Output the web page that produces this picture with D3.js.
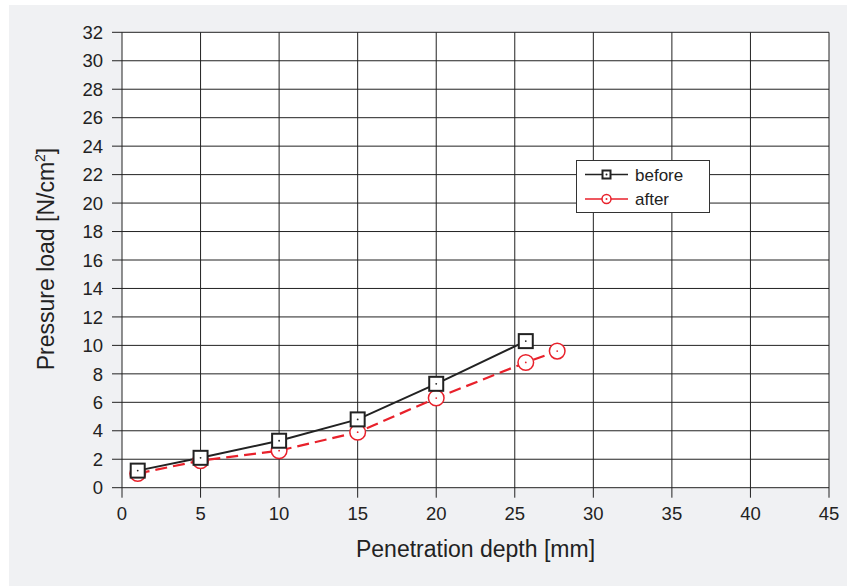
<!DOCTYPE html>
<html><head><meta charset="utf-8">
<script src="https://cdn.jsdelivr.net/npm/d3@7"></script>
<style>body{margin:0;background:#fff}svg{display:block;font-family:"Liberation Sans",Arial,sans-serif}</style>
</head><body>
<svg id="c" width="854" height="586"></svg>
<script>
const beforeX = [1, 5, 10, 15, 20, 25.7];
const beforeY = [1.2, 2.1, 3.3, 4.8, 7.3, 10.3];
const afterX = [1, 5, 10, 15, 20, 25.7, 27.7];
const afterY = [1.0, 1.9, 2.6, 3.9, 6.3, 8.8, 9.6];
const xTicks = [0, 5, 10, 15, 20, 25, 30, 35, 40, 45];
const yTicks = [0, 2, 4, 6, 8, 10, 12, 14, 16, 18, 20, 22, 24, 26, 28, 30, 32];
const seriesNames = ["before", "after"];
const xTitle = "Penetration depth [mm]";

const svg = d3.select("#c");
svg.append("rect").attr("x", 9).attr("y", 5).attr("width", 838).attr("height", 581).attr("fill", "#f0f1f3");

const x = d3.scaleLinear().domain([0, 45]).range([122, 829]);
const y = d3.scaleLinear().domain([0, 32]).range([487.7, 32.3]);

svg.append("rect").attr("x", x(0)).attr("y", y(32)).attr("width", x(45) - x(0)).attr("height", y(0) - y(32)).attr("fill", "#fff");

const g = svg.append("g");
g.selectAll("line.h").data(yTicks).join("line")
  .attr("x1", 112).attr("x2", x(45)).attr("y1", d => y(d)).attr("y2", d => y(d))
  .attr("stroke", "#222").attr("stroke-width", 1);
g.selectAll("line.v").data(xTicks).join("line")
  .attr("x1", d => x(d)).attr("x2", d => x(d)).attr("y1", y(32)).attr("y2", y(0) + 10)
  .attr("stroke", "#222").attr("stroke-width", 1);

g.selectAll("text.yl").data(yTicks).join("text")
  .attr("x", 103).attr("y", d => y(d)).attr("dy", "0.36em").attr("text-anchor", "end")
  .attr("font-size", 18.5).attr("fill", "#222").text(d => d);
g.selectAll("text.xl").data(xTicks).join("text")
  .attr("x", d => x(d)).attr("y", 520).attr("text-anchor", "middle")
  .attr("font-size", 18.5).attr("fill", "#222").text(d => d);

svg.append("text").attr("x", 475.5).attr("y", 557).attr("text-anchor", "middle")
  .attr("font-size", 23).attr("fill", "#222").text(xTitle);
const yt = svg.append("text").attr("transform", "translate(54,259) rotate(-90)").attr("text-anchor", "middle")
  .attr("font-size", 23).attr("fill", "#222");
yt.append("tspan").text("Pressure load [N/cm");
yt.append("tspan").attr("font-size", 14).attr("dy", -9).text("2");
yt.append("tspan").attr("dy", 9).text("]");

const before = beforeX.map((v, i) => [v, beforeY[i]]);
const after = afterX.map((v, i) => [v, afterY[i]]);
const line = d3.line().x(d => x(d[0])).y(d => y(d[1]));

svg.append("path").attr("d", line(after)).attr("fill", "none").attr("stroke", "#e8212b")
  .attr("stroke-width", 2.2).attr("stroke-dasharray", "12,6");
svg.append("path").attr("d", line(before)).attr("fill", "none").attr("stroke", "#222").attr("stroke-width", 2);

svg.selectAll("circle.a").data(after).join("circle")
  .attr("cx", d => x(d[0])).attr("cy", d => y(d[1])).attr("r", 7.8)
  .attr("fill", "#fff").attr("stroke", "#e8212b").attr("stroke-width", 1.5);
svg.selectAll("circle.ad").data(after).join("circle")
  .attr("cx", d => x(d[0])).attr("cy", d => y(d[1])).attr("r", 0.9).attr("fill", "#e8212b");

svg.selectAll("rect.b").data(before).join("rect")
  .attr("x", d => x(d[0]) - 7).attr("y", d => y(d[1]) - 7).attr("width", 14).attr("height", 14)
  .attr("fill", "#fff").attr("stroke", "#222").attr("stroke-width", 2);
svg.selectAll("circle.bd").data(before).join("circle")
  .attr("cx", d => x(d[0])).attr("cy", d => y(d[1])).attr("r", 0.9).attr("fill", "#222");

const lg = svg.append("g");
lg.append("rect").attr("x", 576.5).attr("y", 160.5).attr("width", 133).attr("height", 52)
  .attr("fill", "#fff").attr("stroke", "#333").attr("stroke-width", 1);
const rows = [{name: seriesNames[0], c: "#222", yy: 174.5}, {name: seriesNames[1], c: "#e8212b", yy: 199}];
rows.forEach((r, i) => {
  lg.append("line").attr("x1", 585).attr("x2", 628).attr("y1", r.yy).attr("y2", r.yy).attr("stroke", r.c).attr("stroke-width", 1.5);
  if (i === 0) {
    lg.append("rect").attr("x", 602.5).attr("y", r.yy - 4).attr("width", 8).attr("height", 8).attr("fill", "#fff").attr("stroke", r.c).attr("stroke-width", 2);
  } else {
    lg.append("circle").attr("cx", 606.5).attr("cy", r.yy).attr("r", 4.5).attr("fill", "#fff").attr("stroke", r.c).attr("stroke-width", 1.5);
  }
  lg.append("circle").attr("cx", 606.5).attr("cy", r.yy).attr("r", 1).attr("fill", r.c);
  lg.append("text").attr("x", 635).attr("y", r.yy).attr("dy", "0.36em").attr("font-size", 17).attr("fill", "#222").text(r.name);
});
</script>
</body></html>
